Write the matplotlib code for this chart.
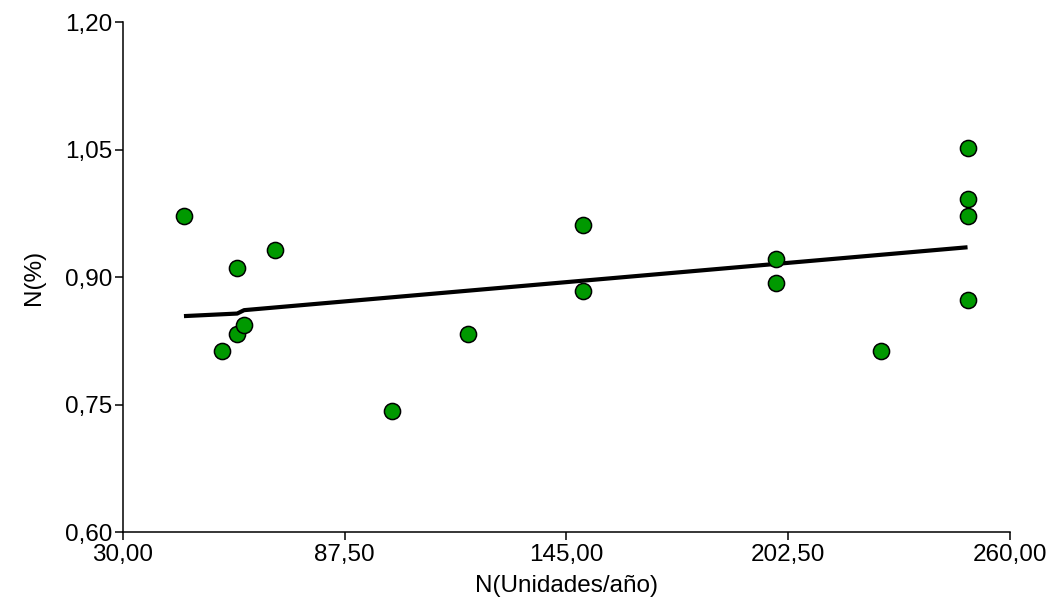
import matplotlib
matplotlib.use('Agg')
import matplotlib.pyplot as plt

plt.rcParams['font.family'] = ['Liberation Sans', 'DejaVu Sans']

# data
x_vals = [45.8, 55.7, 59.6, 59.6, 61.4, 69.4, 99.7, 119.4, 149.3, 149.3,
          199.3, 199.3, 226.5, 249.0, 249.0, 249.0, 249.0]
y_vals = [0.972, 0.813, 0.833, 0.911, 0.843, 0.932, 0.742, 0.833, 0.961, 0.884,
          0.921, 0.893, 0.813, 1.052, 0.992, 0.972, 0.873]

# fitted line as drawn
fit_x = [45.8, 59.6, 61.4, 249.0]
fit_y = [0.854, 0.857, 0.861, 0.935]

x_ticks = [30.0, 87.5, 145.0, 202.5, 260.0]
y_ticks = [0.60, 0.75, 0.90, 1.05, 1.20]


def comma(v, dec):
    return f'{v:.{dec}f}'.replace('.', ',')


fig = plt.figure(figsize=(10.48, 6.08), dpi=100)
ax = fig.add_axes([0.1174, 0.125, 0.8463, 0.8388])

ax.plot(fit_x, fit_y, color='black', linewidth=3, solid_capstyle='butt', zorder=2)
ax.scatter(x_vals, y_vals, s=135, color='#009900', edgecolor='black', linewidth=1.1, zorder=3)

ax.set_xlim(30, 260)
ax.set_ylim(0.60, 1.20)
ax.set_xticks(x_ticks)
ax.set_xticklabels([comma(v, 2) for v in x_ticks])
ax.set_yticks(y_ticks)
ax.set_yticklabels([comma(v, 2) for v in y_ticks])

for side in ['top', 'right']:
    ax.spines[side].set_visible(False)
for side in ['left', 'bottom']:
    ax.spines[side].set_linewidth(1.1)

ax.tick_params(axis='both', direction='out', length=6, width=1.1, labelsize=17.5)
ax.tick_params(axis='x', pad=3)
ax.tick_params(axis='y', pad=2)
ax.set_xlabel('N(Unidades/año)', fontsize=17.5, labelpad=6)
ax.set_ylabel('N(%)', fontsize=17.5, labelpad=14)

plt.savefig('out.png', dpi=100)
